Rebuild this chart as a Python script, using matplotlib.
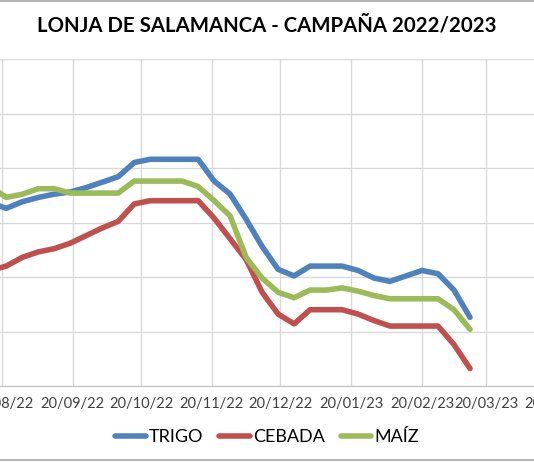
import datetime as dt
import matplotlib
matplotlib.use("Agg")
import matplotlib.pyplot as plt
import matplotlib.dates as mdates
from matplotlib.lines import Line2D

# weekly quotes (Mondays), EUR/t
fechas = [dt.date(2022, 8, 15) + dt.timedelta(weeks=i) for i in range(31)]
trigo = [309, 306.5, 309.5, 311.5, 313, 314, 316, 318.5, 321, 327.5, 329, 329, 329, 329,
         319, 313, 301.5, 289, 278.5, 275.5, 280, 280, 280, 278, 274.5, 273, 275.5, 278,
         276.5, 269, 256.5]
cebada = [278, 280, 284, 286.5, 288, 290.5, 294, 297.5, 300.5, 308.5, 310, 310, 310, 310,
          302, 292.5, 283, 268, 258, 253.5, 260, 260, 260, 258, 255, 252.5, 252.5, 252.5,
          252.5, 244, 233]
maiz = [316.5, 311.5, 313, 315.5, 315.5, 313.5, 313.5, 313.5, 313.5, 319, 319, 319, 319,
        316.5, 310, 303, 284, 274.5, 268, 265.5, 269, 269, 270, 268.5, 266.5, 265, 265, 265,
        265, 260, 251]

series = [("TRIGO", trigo, "#4F81BD"), ("CEBADA", cebada, "#C0504D"), ("MAÍZ", maiz, "#9BBB59")]

plt.rcParams['font.family'] = ['Lato', 'DejaVu Sans']

W, H = 534, 462
fig = plt.figure(figsize=(W / 100, H / 100), dpi=100)

# plot area runs past both sides of the picture (chart is cropped)
px_day = (486 - 1.7) / 212
x_left, x_right = -60, 600
ax = fig.add_axes([x_left / W, (H - 386) / H, (x_right - x_left) / W, (386 - 59) / H])
d0 = mdates.date2num(dt.date(2022, 8, 20))
ax.set_xlim(d0 + (x_left - 1.7) / px_day, d0 + (x_right - 1.7) / px_day)
ax.set_ylim(225, 375)

for nombre, valores, color in series:
    ax.plot(fechas, valores, color=color, lw=4, solid_capstyle='round',
            solid_joinstyle='round', label=nombre)

ax.set_yticks(range(225, 376, 25))
ax.set_yticklabels([])
ax.xaxis.set_major_locator(mdates.MonthLocator(bymonthday=20))
ax.xaxis.set_major_formatter(mdates.DateFormatter('%d/%m/%y'))
ax.tick_params(length=0, labelsize=10.5, labelcolor='#404040', pad=8)
ax.grid(True, color='#D9D9D9', lw=1)
ax.set_axisbelow(True)
for s in ['top', 'left', 'right']:
    ax.spines[s].set_visible(False)
ax.spines['bottom'].set_color('#BFBFBF')

fig.text(0.5, (H - 26) / H, "LONJA DE SALAMANCA - CAMPAÑA 2022/2023", ha='center', va='center',
         fontsize=14.7, fontweight='bold', color='black')

fig.legend(loc='center', bbox_to_anchor=(0.5, (H - 437) / H), ncol=3, frameon=False,
           fontsize=13, handlelength=1.7, handletextpad=0.15, columnspacing=0.9)

# chart area border (top and bottom visible in the crop)
fig.add_artist(Line2D([0, 1], [1 - 1 / H, 1 - 1 / H], color='#A6A6A6', lw=1.2))
fig.add_artist(Line2D([0, 1], [2 / H, 2 / H], color='#A6A6A6', lw=1.2))

fig.savefig("out.png", dpi=100)
